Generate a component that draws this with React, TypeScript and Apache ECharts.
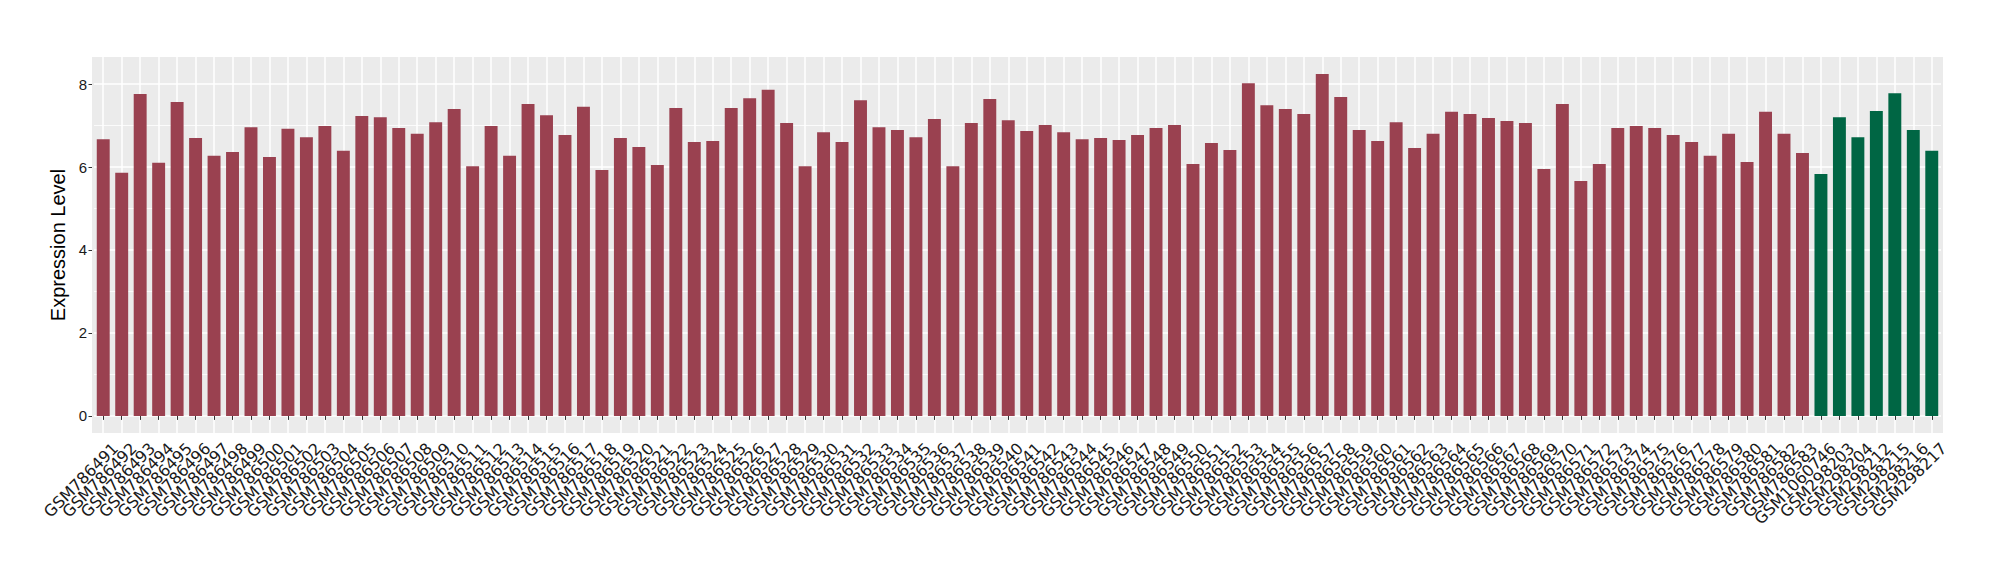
import React, { useEffect, useRef } from "react";
import * as echarts from "echarts";

const categories: string[] = [
  "GSM786491", "GSM786492", "GSM786493", "GSM786494", "GSM786495", "GSM786496", "GSM786497", "GSM786498", "GSM786499", "GSM786500",
  "GSM786501", "GSM786502", "GSM786503", "GSM786504", "GSM786505", "GSM786506", "GSM786507", "GSM786508", "GSM786509", "GSM786510",
  "GSM786511", "GSM786512", "GSM786513", "GSM786514", "GSM786515", "GSM786516", "GSM786517", "GSM786518", "GSM786519", "GSM786520",
  "GSM786521", "GSM786522", "GSM786523", "GSM786524", "GSM786525", "GSM786526", "GSM786527", "GSM786528", "GSM786529", "GSM786530",
  "GSM786531", "GSM786532", "GSM786533", "GSM786534", "GSM786535", "GSM786536", "GSM786537", "GSM786538", "GSM786539", "GSM786540",
  "GSM786541", "GSM786542", "GSM786543", "GSM786544", "GSM786545", "GSM786546", "GSM786547", "GSM786548", "GSM786549", "GSM786550",
  "GSM786551", "GSM786552", "GSM786553", "GSM786554", "GSM786555", "GSM786556", "GSM786557", "GSM786558", "GSM786559", "GSM786560",
  "GSM786561", "GSM786562", "GSM786563", "GSM786564", "GSM786565", "GSM786566", "GSM786567", "GSM786568", "GSM786569", "GSM786570",
  "GSM786571", "GSM786572", "GSM786573", "GSM786574", "GSM786575", "GSM786576", "GSM786577", "GSM786578", "GSM786579", "GSM786580",
  "GSM786581", "GSM786582", "GSM786583",
  "GSM1060746", "GSM298203", "GSM298204", "GSM298212", "GSM298215", "GSM298216", "GSM298217",
];

const values: number[] = [
  6.67, 5.86, 7.76, 6.10, 7.57, 6.70, 6.27, 6.36, 6.96, 6.24,
  6.92, 6.72, 6.99, 6.39, 7.23, 7.20, 6.94, 6.80, 7.08, 7.40,
  6.02, 6.99, 6.27, 7.52, 7.25, 6.77, 7.45, 5.93, 6.70, 6.48,
  6.05, 7.42, 6.60, 6.63, 7.42, 7.66, 7.86, 7.06, 6.02, 6.84,
  6.60, 7.61, 6.96, 6.89, 6.72, 7.16, 6.02, 7.06, 7.64, 7.13,
  6.87, 7.01, 6.84, 6.67, 6.70, 6.65, 6.77, 6.94, 7.01, 6.07,
  6.58, 6.41, 8.02, 7.49, 7.40, 7.28, 8.24, 7.69, 6.89, 6.63,
  7.08, 6.46, 6.80, 7.33, 7.28, 7.18, 7.11, 7.06, 5.95, 7.52,
  5.66, 6.07, 6.94, 6.99, 6.94, 6.77, 6.60, 6.27, 6.80, 6.12,
  7.33, 6.80, 6.34,
  5.83, 7.20, 6.72, 7.35, 7.78, 6.89, 6.39,
];

// group of each sample: "A" (maroon) for GSM7865xx, "B" (green) for the rest
const groups: string[] = [
  ...Array(93).fill("A"),
  "B", "B", "B", "B", "B", "B", "B",
];

const groupColors: Record<string, string> = { A: "#9a4150", B: "#006644" };

const yMajorTicks: number[] = [0, 2, 4, 6, 8];
const yMinorTicks: number[] = [1, 3, 5, 7];
const yMin = -0.412;
const yMax = 8.652;

export default function App() {
  const ref = useRef<HTMLDivElement>(null);
  useEffect(() => {
    if (!ref.current) return;
    const chart = echarts.init(ref.current, undefined, { renderer: "svg" });
    const option: any = {
      animation: false,
      backgroundColor: "#ffffff",
      graphic: [
        {
          type: "rect",
          z: -10,
          silent: true,
          shape: { x: 92, y: 57, width: 1851, height: 376 },
          style: { fill: "#EBEBEB" },
        },
      ],
      grid: [
        { left: 94, right: 59, top: 57, bottom: 147, containLabel: false },
        // label-only grid, shifted to reproduce the label anchoring of the original
        { left: 100.5, right: 52.5, top: 57, bottom: 147, containLabel: false },
      ],
      xAxis: [
        {
          type: "category",
          gridIndex: 0,
          data: categories,
          axisLine: { show: false },
          axisTick: { show: true, alignWithLabel: true, interval: 0, length: 4, lineStyle: { color: "#333333" } },
          axisLabel: { show: false, interval: 0 },
          splitLine: { show: true, alignWithLabel: true, interval: 0, lineStyle: { color: "#ffffff", width: 1.5 } },
        },
        {
          type: "category",
          gridIndex: 1,
          data: categories,
          axisLine: { show: false },
          axisTick: { show: false },
          splitLine: { show: false },
          axisLabel: {
            interval: 0,
            rotate: 45,
            align: "right",
            verticalAlign: "top",
            fontSize: 16,
            fontFamily: "DejaVu Sans",
            color: "#1a1a1a",
            margin: 7,
          },
        },
      ],
      yAxis: [
        {
          type: "value",
          gridIndex: 0,
          min: yMin,
          max: yMax,
          offset: 2,
          axisLine: { show: false },
          axisTick: { show: true, length: 3.5, customValues: yMajorTicks, lineStyle: { color: "#333333" } },
          axisLabel: {
            customValues: yMajorTicks,
            fontSize: 15,
            fontFamily: "Liberation Sans",
            color: "#1a1a1a",
            margin: 5,
          },
          splitLine: { show: true, lineStyle: { color: "#ffffff", width: 1.6 } },
          name: "Expression Level",
          nameLocation: "middle",
          nameGap: 16,
          nameTextStyle: { fontSize: 20, fontFamily: "Liberation Sans", color: "#000000" },
        },
        {
          type: "value",
          gridIndex: 0,
          min: yMin,
          max: yMax,
          position: "left",
          axisLine: { show: false },
          axisTick: { show: false, customValues: yMinorTicks },
          axisLabel: { show: false, customValues: yMinorTicks },
          splitLine: { show: true, lineStyle: { color: "#ffffff", width: 0.8 } },
        },
        {
          type: "value",
          gridIndex: 1,
          show: false,
        },
      ],
      series: [
        {
          type: "bar",
          xAxisIndex: 0,
          yAxisIndex: 0,
          barWidth: "70%",
          data: values.map((v, i) => ({ value: v, itemStyle: { color: groupColors[groups[i]] } })),
        },
      ],
    };
    chart.setOption(option);
    return () => chart.dispose();
  }, []);
  return (
    <div
      ref={ref}
      style={{ position: "fixed", left: 0, top: 0, width: 2000, height: 580 }}
    />
  );
}
